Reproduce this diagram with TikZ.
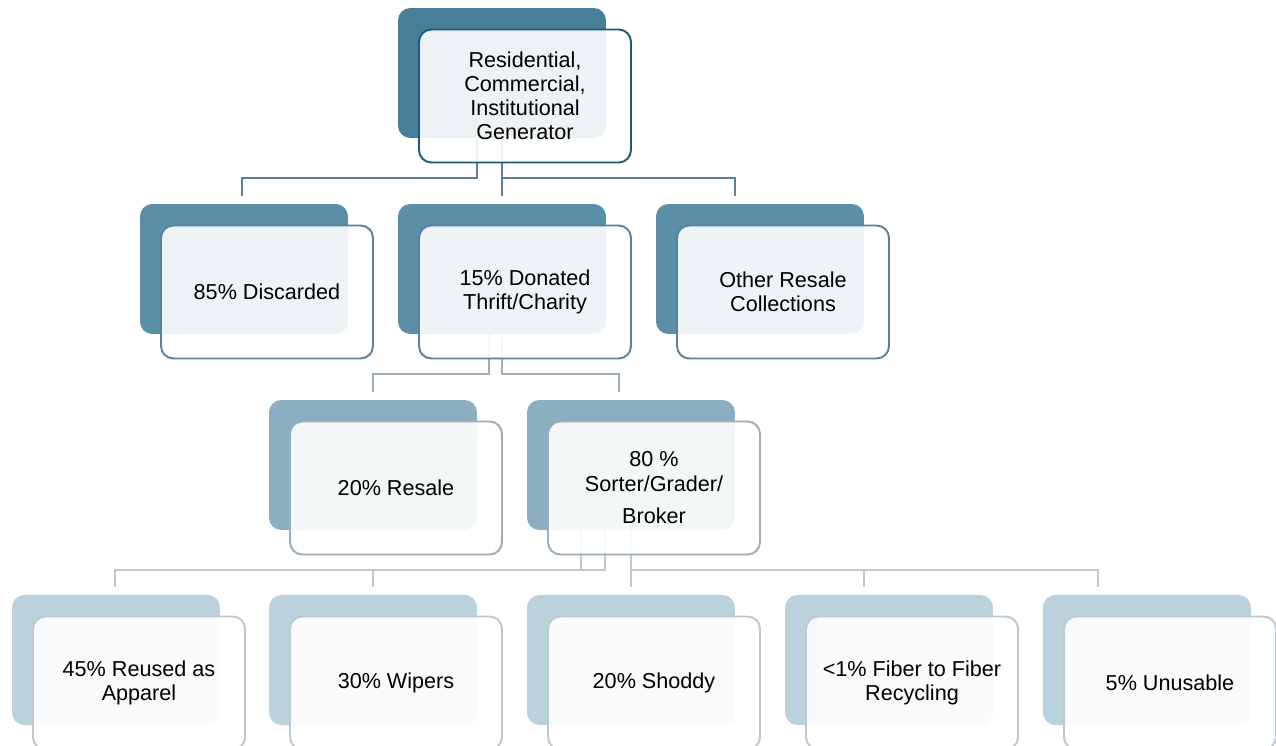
\documentclass[tikz,border=0pt]{standalone}
\usepackage{fontspec}
\setmainfont{Liberation Sans}
\usetikzlibrary{calc, positioning}
\definecolor{genfill}{HTML}{497E98}
\definecolor{genline}{HTML}{1E5B7B}
\definecolor{twofill}{HTML}{5B8FA8}
\definecolor{twoline}{HTML}{5F809A}
\definecolor{threefill}{HTML}{8BAEC0}
\definecolor{threeline}{HTML}{9DADBA}
\definecolor{fourfill}{HTML}{BBD1DC}
\definecolor{fourline}{HTML}{BEC8D0}
\tikzset{
  backbox/.style={fill=#1, rounded corners=7pt, inner sep=0pt,
    minimum width=4.16cm, minimum height=2.6cm},
  frontbox/.style={draw=#1, line width=1.1pt, rounded corners=7pt,
    fill=white, fill opacity=0.9, text opacity=1, align=center,
    minimum width=4.24cm, minimum height=2.66cm,
    font=\fontsize{12.3}{13.7}\selectfont},
  link/.style={draw=#1, line width=1.1pt}
}

\begin{document}
\begin{tikzpicture}[x=0.02cm, y=-0.02cm]
  \useasboundingbox (0,0) rectangle (1276,746);
  % back plates
  \node[backbox=genfill] (genB) at (502,73) {};
  \node[backbox=twofill] (discB) at (244,269) {};
  \node[backbox=twofill] (donB) at (502,269) {};
  \node[backbox=twofill] (othB) at (760,269) {};
  \node[backbox=threefill] (resB) at (373,465) {};
  \node[backbox=threefill] (sorB) at (631,465) {};
  \node[backbox=fourfill] (appB) at (116,660) {};
  \node[backbox=fourfill] (wipB) at (373,660) {};
  \node[backbox=fourfill] (shoB) at (631,660) {};
  \node[backbox=fourfill] (fibB) at (889,660) {};
  \node[backbox=fourfill] (unuB) at (1147,660) {};

  % connectors
  \draw[link=twoline] ($(genB.south)+(-25,0)$) -- ++(0,40) -| ($(discB.north)+(-2,-8)$);
  \draw[link=twoline] (genB.south) -- ($(donB.north)+(0,-8)$);
  \draw[link=twoline] (genB.south) -- ++(0,40) -| ($(othB.north)+(-25,-8)$);
  \draw[link=threeline] ($(donB.south)+(-13,0)$) -- ++(0,40) -| ($(resB.north)+(0,-8)$);
  \draw[link=threeline] (donB.south) -- ++(0,40) -| ($(sorB.north)+(-12,-8)$);
  \draw[link=fourline] ($(sorB.south)+(-50,0)$) -- ++(0,40) -| ($(appB.north)+(-1,-8)$);
  \draw[link=fourline] ($(sorB.south)+(-26,0)$) -- ++(0,40) -| ($(wipB.north)+(0,-8)$);
  \draw[link=fourline] (sorB.south) -- ($(shoB.north)+(0,-8)$);
  \draw[link=fourline] (sorB.south) -- ++(0,40) -| ($(fibB.north)+(-25,-8)$);
  \draw[link=fourline] (sorB.south) -- ++(0,40) -| ($(unuB.north)+(-49,-8)$);

  % front cards
  \node[frontbox=genline] (gen) at ($(genB)+(23,23)$) {Residential,\\Commercial,\\Institutional\\Generator};
  \node[frontbox=twoline] (disc) at ($(discB)+(23,23)$) {85\% Discarded};
  \node[frontbox=twoline] (don) at ($(donB)+(23,23)$) {15\% Donated\\Thrift/Charity};
  \node[frontbox=twoline] (oth) at ($(othB)+(23,23)$) {Other Resale\\Collections};
  \node[frontbox=threeline] (res) at ($(resB)+(23,23)$) {20\% Resale};
  \node[frontbox=threeline] (sor) at ($(sorB)+(23,23)$) {80 \%\\Sorter/Grader/\\[5pt]Broker};
  \node[frontbox=fourline] (app) at ($(appB)+(23,23)$) {45\% Reused as\\Apparel};
  \node[frontbox=fourline] (wip) at ($(wipB)+(23,23)$) {30\% Wipers};
  \node[frontbox=fourline] (sho) at ($(shoB)+(23,23)$) {20\% Shoddy};
  \node[frontbox=fourline] (fib) at ($(fibB)+(23,23)$) {<1\% Fiber to Fiber\\Recycling};
  \node[frontbox=fourline] (unu) at ($(unuB)+(23,23)$) {5\% Unusable};
\end{tikzpicture}
\end{document}
